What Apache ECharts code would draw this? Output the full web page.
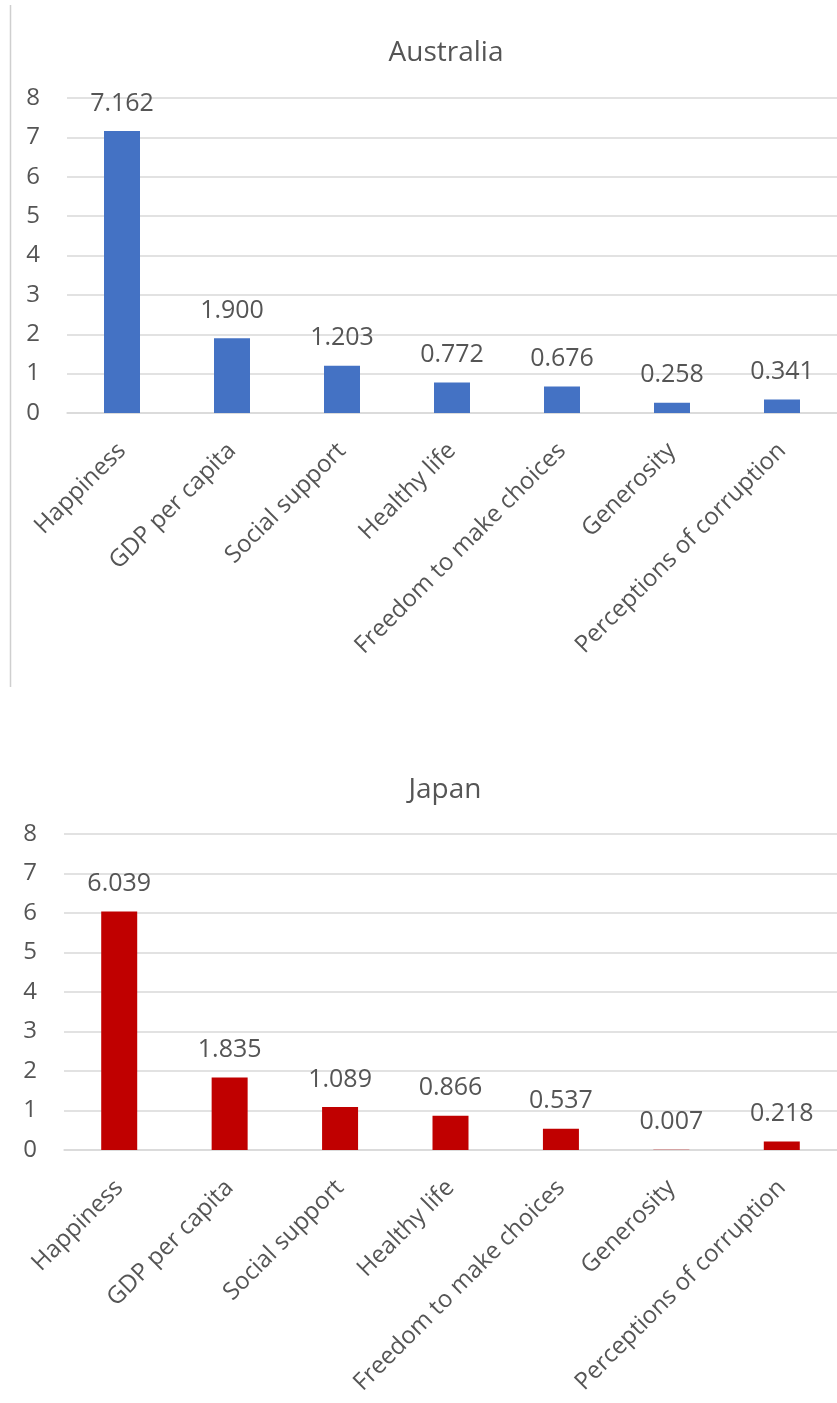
<!DOCTYPE html>
<html>
<head>
<meta charset="utf-8">
<script src="https://cdn.jsdelivr.net/npm/echarts@6/dist/echarts.min.js"></script>
<style>
html,body{margin:0;padding:0;background:#fff;}
#c{width:837px;height:1403px;}
</style>
</head>
<body>
<div id="c"></div>
<script>
var categories = ['Happiness','GDP per capita','Social support','Healthy life','Freedom to make choices','Generosity','Perceptions of corruption'];
var australiaValues = [7.162, 1.900, 1.203, 0.772, 0.676, 0.258, 0.341];
var japanValues = [6.039, 1.835, 1.089, 0.866, 0.537, 0.007, 0.218];
var titles = ['Australia', 'Japan'];

var FONT = 'Open Sans';
var TXT = '#555555';
var GRIDC = '#d9d9d9';

function xAx(gi){
  return {
    type:'category', gridIndex:gi, data:categories,
    axisLine:{show:true, lineStyle:{color:GRIDC, width:1.5}},
    axisTick:{show:false},
    axisLabel:{rotate:45, margin:34, interval:0, color:TXT, fontFamily:FONT, fontSize:24}
  };
}
function yAx(gi){
  return {
    type:'value', gridIndex:gi, min:0, max:8, interval:1,
    axisLine:{show:false}, axisTick:{show:false},
    splitLine:{lineStyle:{color:GRIDC, width:1.5}},
    axisLabel:{margin:27, color:TXT, fontFamily:FONT, fontSize:24}
  };
}
function ser(gi, vals, color){
  return {
    type:'bar', xAxisIndex:gi, yAxisIndex:gi, data:vals, barWidth:36,
    itemStyle:{color:color},
    label:{show:true, position:'top', distance:15, color:TXT, fontFamily:FONT, fontSize:25,
      formatter:function(p){return p.value.toFixed(3);}}
  };
}

var chart = echarts.init(document.getElementById('c'), null, {renderer:'canvas'});
chart.setOption({
  animation:false,
  backgroundColor:'#fff',
  title:[
    {text:titles[0], left:441, top:48, textAlign:'center', textVerticalAlign:'middle',
      textStyle:{color:TXT, fontFamily:FONT, fontSize:28, fontWeight:'normal'}},
    {text:titles[1], left:440, top:785, textAlign:'center', textVerticalAlign:'middle',
      textStyle:{color:TXT, fontFamily:FONT, fontSize:28, fontWeight:'normal'}}
  ],
  graphic:[
    {type:'line', shape:{x1:10.5, y1:5, x2:10.5, y2:687}, style:{stroke:'#cfcfcf', lineWidth:1.5}, silent:true}
  ],
  grid:[
    {left:67, top:98, width:784, height:315},
    {left:64, top:834, width:784, height:316}
  ],
  xAxis:[xAx(0), xAx(1)],
  yAxis:[yAx(0), yAx(1)],
  series:[ser(0, australiaValues, '#4472C4'), ser(1, japanValues, '#C00000')]
});
</script>
</body>
</html>
